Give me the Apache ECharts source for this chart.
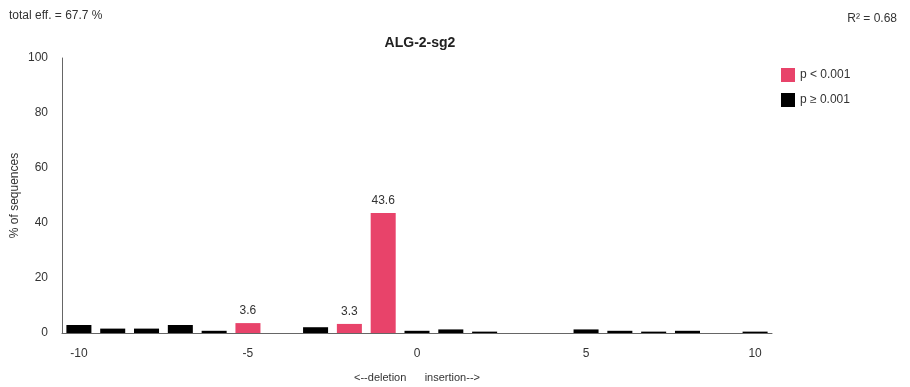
<!DOCTYPE html>
<html><head><meta charset="utf-8">
<script src="https://cdn.jsdelivr.net/npm/echarts@6/dist/echarts.min.js"></script>
<style>html,body{margin:0;padding:0;background:#fff}#c{width:910px;height:387px}</style>
</head><body><div id="c"></div>
<script>
const categories = ['-10','-9','-8','-7','-6','-5','-4','-3','-2','-1','0','1','2','3','4','5','6','7','8','9','10'];
const values = [2.9,1.6,1.6,2.9,0.8,3.6,0,2.1,3.3,43.6,0.8,1.3,0.5,0,0,1.3,0.8,0.5,0.8,0,0.5];
const significant = [0,0,0,0,0,1,0,0,1,1,0,0,0,0,0,0,0,0,0,0,0];
const yTicks = [0,20,40,60,80,100];

const redData = values.map((v,i)=> significant[i] && v>0 ? v : '-');
const blackData = values.map((v,i)=> !significant[i] && v>0 ? v : '-');
const font = 'Liberation Sans, Arial, sans-serif';

const chart = echarts.init(document.getElementById('c'));
chart.setOption({
  animation:false,
  textStyle:{fontFamily:font},
  title:[
    {text:'ALG-2-sg2', left:415, top:31, textAlign:'center', textStyle:{fontSize:14, fontWeight:'bold', color:'#222', fontFamily:font}},
    {text:'total eff. = 67.7 %', left:4, top:5, textStyle:{fontSize:12, fontWeight:'normal', color:'#333', fontFamily:font}},
    {text:'R² = 0.68', right:8, top:8, textStyle:{fontSize:12, fontWeight:'normal', color:'#333', fontFamily:font}}
  ],
  legend:{
    orient:'vertical', left:776, top:63, itemWidth:14, itemHeight:14, itemGap:11,
    textStyle:{fontSize:12, color:'#333', fontFamily:font},
    icon:'rect',
    data:['p < 0.001','p ≥ 0.001']
  },
  grid:{left:62, right:138, top:58, bottom:54, outerBoundsMode:'none', containLabel:false},
  xAxis:{
    type:'category', data:categories,
    name:'<--deletion      insertion-->', nameLocation:'middle', nameGap:39, nameMoveOverlap:false,
    nameTextStyle:{fontSize:11, color:'#333', fontFamily:font},
    axisLine:{lineStyle:{color:'#666', width:1}},
    axisTick:{show:false},
    axisLabel:{interval:4, color:'#333', fontSize:12, margin:15, fontFamily:font}
  },
  yAxis:{
    type:'value', min:0, max:100, interval:20,
    name:'% of sequences', nameLocation:'middle', nameGap:41, nameRotate:90, nameMoveOverlap:false,
    nameTextStyle:{fontSize:12, color:'#333', fontFamily:font},
    axisLine:{show:true, lineStyle:{color:'#666', width:1}},
    axisTick:{show:false},
    splitLine:{show:false},
    axisLabel:{color:'#333', fontSize:12, margin:14, fontFamily:font,
      formatter:v=> yTicks.includes(v) ? String(v) : ''}
  },
  series:[
    {name:'p < 0.001', type:'bar', stack:'s', data:redData, barWidth:'74%',
      itemStyle:{color:'#e8436a'},
      label:{show:true, position:'top', color:'#333', fontSize:12, distance:6, fontFamily:font,
        formatter:p=>p.value.toFixed(1)}},
    {name:'p ≥ 0.001', type:'bar', stack:'s', data:blackData, barWidth:'74%',
      itemStyle:{color:'#000'}}
  ]
});
</script></body></html>
